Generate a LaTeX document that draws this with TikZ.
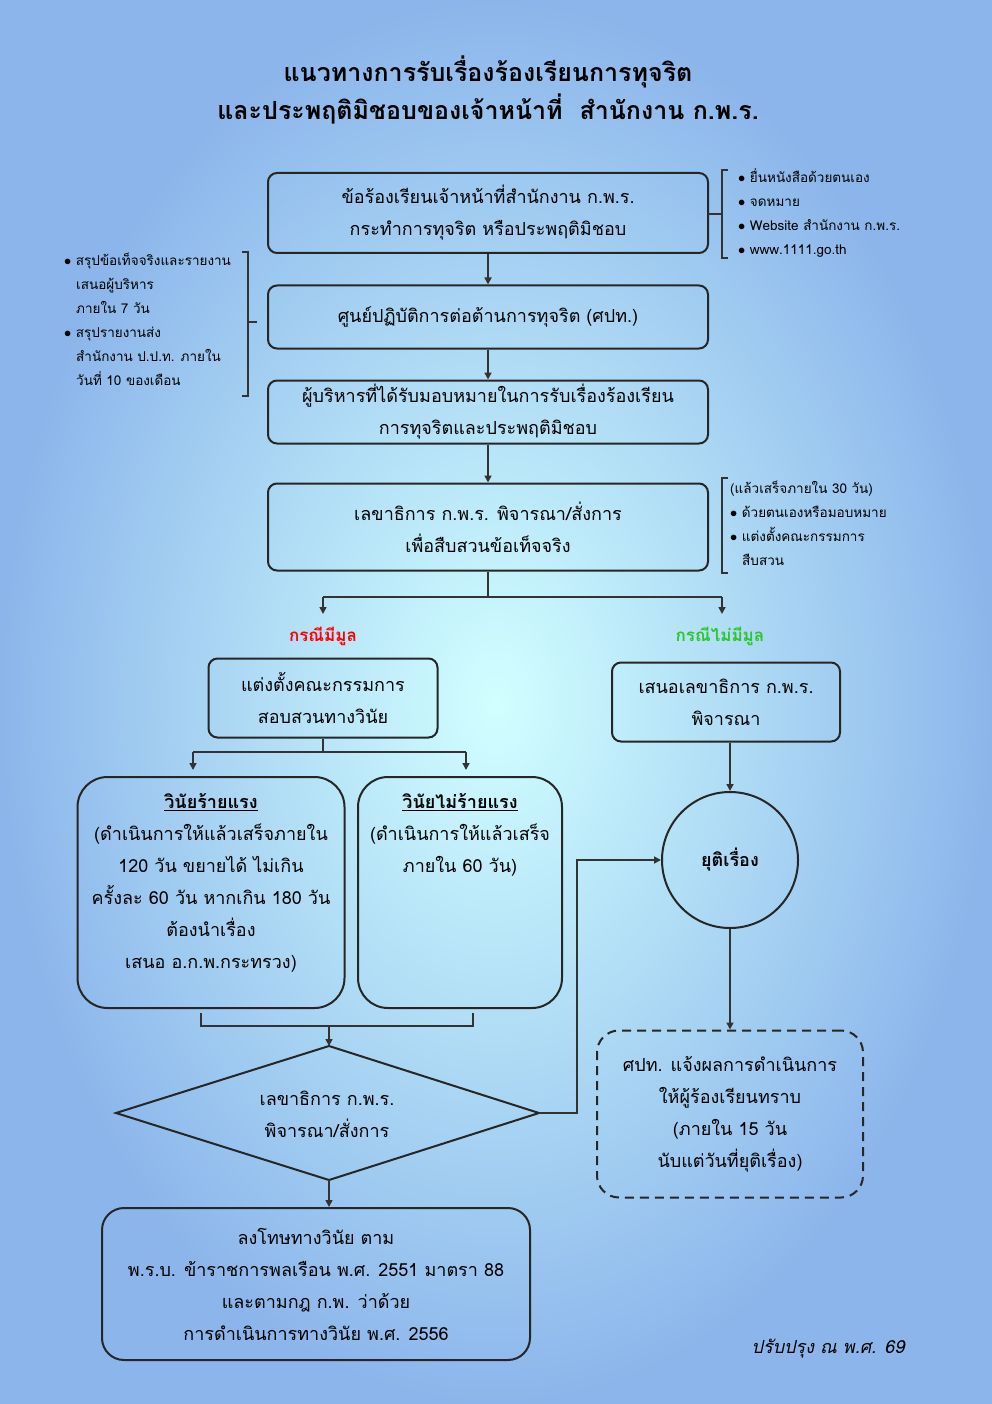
\documentclass[tikz,border=0pt]{standalone}
\usepackage{fontspec}
\setmainfont[Script=Thai]{Loma}
\usetikzlibrary{shapes.geometric,arrows.meta}
\begin{document}
\begin{tikzpicture}[x=1pt,y=-1pt,
 box/.style={draw=black!85,line width=2pt,rounded corners=9pt,align=center,font=\fontsize{18}{32}\selectfont,inner sep=0pt},
 ln/.style={line width=1.6pt,black!80},
 arr/.style={ln,-{Triangle[length=7pt,width=7pt]}},
 lst/.style={align=left,anchor=north west,font=\fontsize{13.5}{24}\selectfont,inner sep=0pt}]
\useasboundingbox (0,0) rectangle (992,1404);
\shade[inner color=cyan!18!white, outer color={rgb,255:red,140;green,182;blue,235}] (0,0) rectangle (992,1404);
\node[font=\bfseries\fontsize{25}{38}\selectfont,align=center] (t) at (488,90) {แนวทางการรับเรื่องร้องเรียนการทุจริต\\และประพฤติมิชอบของเจ้าหน้าที่ \ สำนักงาน ก.พ.ร.};
\node[box,minimum width=440,minimum height=80] (b1) at (488,213) {ข้อร้องเรียนเจ้าหน้าที่สำนักงาน ก.พ.ร.\\กระทำการทุจริต หรือประพฤติมิชอบ};
\node[box,minimum width=440,minimum height=63] (b2) at (488,317) {ศูนย์ปฏิบัติการต่อต้านการทุจริต (ศปท.)};
\node[box,minimum width=440,minimum height=63] (b3) at (488,412) {ผู้บริหารที่ได้รับมอบหมายในการรับเรื่องร้องเรียน\\การทุจริตและประพฤติมิชอบ};
\node[box,minimum width=440,minimum height=87] (b4) at (488,527) {เลขาธิการ ก.พ.ร. พิจารณา/สั่งการ\\เพื่อสืบสวนข้อเท็จจริง};
\draw[arr] (b1) -- (b2); \draw[arr] (b2) -- (b3); \draw[arr] (b3) -- (b4);
\draw[ln,line width=1.2pt] (728,170) -- (722,170) -- (722,258) -- (728,258);
\draw[ln,line width=1.2pt] (722,214) -- (708,214);
\node[lst] (l1) at (738,168) {$\bullet$ ยื่นหนังสือด้วยตนเอง\\$\bullet$ จดหมาย\\$\bullet$ Website สำนักงาน ก.พ.ร.\\$\bullet$ www.1111.go.th};
\draw[ln,line width=1.2pt] (242,252) -- (248,252) -- (248,396) -- (242,396);
\draw[ln,line width=1.2pt] (248,322) -- (257,322);
\node[lst] (l2) at (64,253) {$\bullet$ สรุปข้อเท็จจริงและรายงาน\\\hspace*{12pt}เสนอผู้บริหาร\\\hspace*{12pt}ภายใน 7 วัน\\$\bullet$ สรุปรายงานส่ง\\\hspace*{12pt}สำนักงาน ป.ป.ท. ภายใน\\\hspace*{12pt}วันที่ 10 ของเดือน};
\draw[ln,line width=1.2pt] (728,478) -- (722,478) -- (722,573) -- (728,573);
\node[lst] (l3) at (730,481) {(แล้วเสร็จภายใน 30 วัน)\\$\bullet$ ด้วยตนเองหรือมอบหมาย\\$\bullet$ แต่งตั้งคณะกรรมการ\\\hspace*{12pt}สืบสวน};
\coordinate (s0) at (488,597); \coordinate (sl) at (323,597); \coordinate (sr) at (722,597);
\draw[ln] (b4.south) -- (s0); \draw[ln] (sl) -- (sr);
\draw[arr] (sl) -- (323,614); \draw[arr] (sr) -- (722,614);
\node[text=red,font=\bfseries\fontsize{17}{20}\selectfont] (c1) at (323,636) {กรณีมีมูล};
\node[text={rgb,255:red,40;green,200;blue,40},font=\bfseries\fontsize{17}{20}\selectfont] (c2) at (720,636) {กรณีไม่มีมูล};
\node[box,minimum width=229,minimum height=79] (b5) at (323,698) {แต่งตั้งคณะกรรมการ\\สอบสวนทางวินัย};
\node[box,minimum width=228,minimum height=79] (b6) at (726,702) {เสนอเลขาธิการ ก.พ.ร.\\พิจารณา};
\coordinate (m0) at (323,752); \coordinate (ml) at (193,752); \coordinate (mr) at (466,752);
\draw[ln] (b5.south) -- (m0); \draw[ln] (ml) -- (mr);
\draw[arr] (ml) -- (193,770); \draw[arr] (mr) -- (466,770);
\node[box,rounded corners=30pt,minimum width=267,minimum height=231,anchor=north] (b7) at (211,776) {};
\node[align=center,anchor=north,font=\fontsize{18}{32}\selectfont] (b7t) at (211,790) {\textbf{\underline{วินัยร้ายแรง}}\\(ดำเนินการให้แล้วเสร็จภายใน\\120 วัน ขยายได้ ไม่เกิน\\ครั้งละ 60 วัน หากเกิน 180 วัน\\ต้องนำเรื่อง\\เสนอ อ.ก.พ.กระทรวง)};
\node[box,rounded corners=30pt,minimum width=204,minimum height=231,anchor=north] (b8) at (460,776) {};
\node[align=center,anchor=north,font=\fontsize{18}{32}\selectfont] (b8t) at (460,790) {\textbf{\underline{วินัยไม่ร้ายแรง}}\\(ดำเนินการให้แล้วเสร็จ\\ภายใน 60 วัน)};
\node[circle,draw=black!85,line width=2pt,minimum size=136,inner sep=0pt,font=\bfseries\fontsize{18}{22}\selectfont] (cc) at (730,860) {ยุติเรื่อง};
\draw[arr] (b6.south -| cc) -- (cc.north);
\coordinate (j1) at (201,1013); \coordinate (j2) at (201,1026); \coordinate (j3) at (473,1026); \coordinate (j4) at (473,1013); \coordinate (j5) at (329,1026);
\draw[ln] (j1) -- (j2) -- (j3) -- (j4);
\coordinate (dn) at (329,1046); \coordinate (de) at (539,1113); \coordinate (ds) at (329,1180); \coordinate (dw) at (116,1113);
\draw[draw=black!85,line width=2pt,line join=miter] (dn) -- (de) -- (ds) -- (dw) -- cycle;
\node[align=center,font=\fontsize{18}{32}\selectfont] (d) at (327,1114) {เลขาธิการ ก.พ.ร.\\พิจารณา/สั่งการ};
\draw[arr] (j5) -- (dn);
\coordinate (e1) at (577,1113); \coordinate (e2) at (577,860);
\draw[arr] (de) -- (e1) -- (e2) -- (cc.west);
\node[box,dashed,dash pattern=on 9pt off 6pt,rounded corners=22pt,minimum width=266,minimum height=167] (b10) at (730,1114) {ศปท. แจ้งผลการดำเนินการ\\ให้ผู้ร้องเรียนทราบ\\(ภายใน 15 วัน\\นับแต่วันที่ยุติเรื่อง)};
\draw[arr] (cc.south) -- (b10.north);
\node[box,rounded corners=22pt,minimum width=428,minimum height=152] (b9) at (316,1284) {ลงโทษทางวินัย ตาม\\พ.ร.บ. ข้าราชการพลเรือน พ.ศ. 2551 มาตรา 88\\และตามกฎ ก.พ. ว่าด้วย\\การดำเนินการทางวินัย พ.ศ. 2556};
\draw[arr] (ds) -- (ds |- b9.north);
\node[font=\itshape\fontsize{18}{22}\selectfont] (f) at (828,1349) {ปรับปรุง ณ พ.ศ. 69};
\end{tikzpicture}
\end{document}
